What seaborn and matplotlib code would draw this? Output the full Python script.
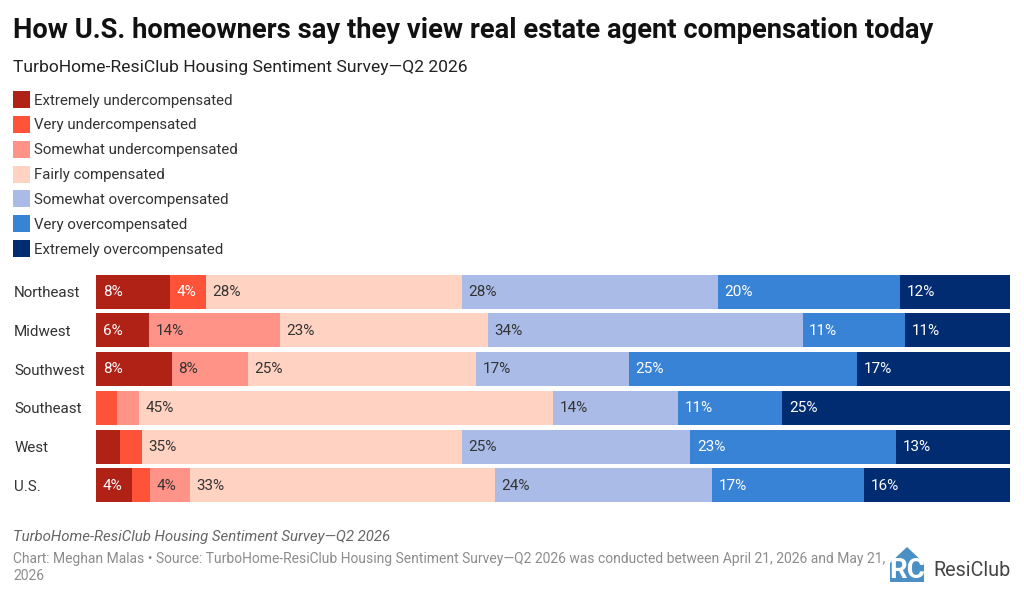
import matplotlib
matplotlib.use("Agg")
import matplotlib.pyplot as plt
from matplotlib.patches import Polygon
import seaborn as sns

TITLE = "How U.S. homeowners say they view real estate agent compensation today"
SUBTITLE = "TurboHome-ResiClub Housing Sentiment Survey\u2014Q2 2026"
NOTE = "TurboHome-ResiClub Housing Sentiment Survey\u2014Q2 2026"
SOURCE = ("Chart: Meghan Malas \u2022 Source: TurboHome-ResiClub Housing Sentiment Survey\u2014Q2 2026 "
          "was conducted between April 21, 2026 and May 21,\n2026")

regions = ["Northeast", "Midwest", "Southwest", "Southeast", "West", "U.S."]
categories = [
    "Extremely undercompensated",
    "Very undercompensated",
    "Somewhat undercompensated",
    "Fairly compensated",
    "Somewhat overcompensated",
    "Very overcompensated",
    "Extremely overcompensated",
]
extremely_under = [8.1, 5.8, 8.3, 0, 2.6, 3.9]
very_under = [3.9, 0, 0, 2.3, 2.4, 2.0]
somewhat_under = [0, 14.3, 8.3, 2.4, 0, 4.4]
fairly = [28.0, 22.8, 25.0, 45.3, 35.0, 33.3]
somewhat_over = [28.0, 34.4, 16.7, 13.7, 25.0, 23.8]
very_over = [20.0, 11.2, 25.0, 11.4, 22.51, 16.6]
extremely_over = [12.0, 11.49, 16.7, 25.0, 12.51, 16.0]
series = [extremely_under, very_under, somewhat_under, fairly,
          somewhat_over, very_over, extremely_over]

colors = ["#B02116", "#FF5339", "#FF9388", "#FFD2C2", "#A9BBE6", "#3983D6", "#012C72"]
label_colors = ["white", "white", "#333333", "#333333", "#333333", "white", "white"]
HIDE_BELOW = 3.5

W, H = 1024, 596


def fx(px):
    return px / W


def fy(px):
    return 1 - px / H


sns.set_theme(style="white")
plt.rcParams["font.family"] = ["Roboto", "DejaVu Sans"]

fig = plt.figure(figsize=(W / 100, H / 100), dpi=100, facecolor="white")
ax = fig.add_axes([fx(96), fy(504.7), fx(1010) - fx(96), fy(272.2) - fy(504.7)])

left = [0] * len(regions)
for name, values, color, text_color in zip(categories, series, colors, label_colors):
    sns.barplot(x=values, y=regions, left=left, color=color, saturation=1, width=0.875,
                linewidth=0, label=name, ax=ax, legend=False)
    for row, (start, val) in enumerate(zip(left, values)):
        if val >= HIDE_BELOW:
            ax.annotate(f"{val:.0f}%", (start, row), xytext=(4.8, -0.3), textcoords="offset points",
                        ha="left", va="center", fontsize=11, color=text_color)
    left = [a + b for a, b in zip(left, values)]

ax.set_xlim(0, 100)
ax.set_xlabel("")
ax.set_ylabel("")
ax.xaxis.set_visible(False)
ax.tick_params(axis="y", length=0, pad=59, labelsize=10.9, labelcolor="#333333")
for tick in ax.get_yticklabels():
    tick.set_ha("left")
sns.despine(ax=ax, left=True, bottom=True)

ax.legend(loc="upper left", bbox_to_anchor=(fx(13), fy(91)), bbox_transform=fig.transFigure,
          frameon=False, fontsize=10.8, labelcolor="#333333", handlelength=1.13, handleheight=1.37,
          handletextpad=0.27, labelspacing=0.522, borderpad=0, borderaxespad=0)

fig.text(fx(13), fy(30.5), TITLE, fontsize=19.76, fontweight="bold", color="#111111", va="center")
fig.text(fx(13), fy(67.5), SUBTITLE, fontsize=12.6, color="#222222", va="center")
fig.text(fx(13), fy(537), NOTE, fontsize=10.8, style="italic", color="#666666", va="center")
fig.text(fx(13), fy(567.5), SOURCE, fontsize=10.03, color="#8C8C8C", va="center", linespacing=1.2)

# ResiClub logo
blue = "#4A90C4"
house = [(fx(907), fy(547)), (fx(924), fy(563)), (fx(924), fy(582)), (fx(890), fy(582)),
         (fx(890), fy(563))]
fig.add_artist(Polygon(house, closed=True, transform=fig.transFigure, facecolor=blue, edgecolor="none"))
fig.text(fx(907), fy(571), "RC", fontsize=20, fontweight="bold", color="white", ha="center", va="center")
fig.text(fx(933.5), fy(570), "ResiClub", fontsize=14.2, color="#444444", va="center")

fig.savefig("out.png", dpi=100)
plt.close(fig)
